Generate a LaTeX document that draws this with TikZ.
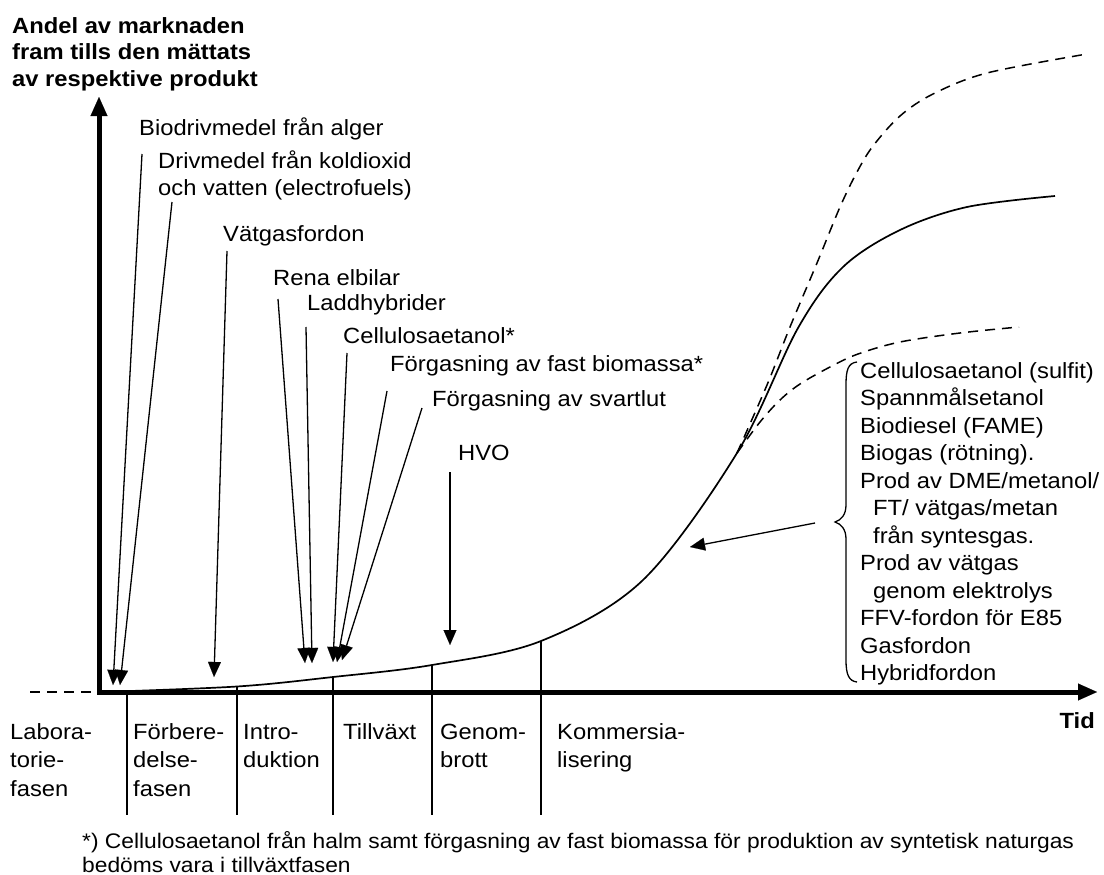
\documentclass[tikz,border=0pt]{standalone}
\usepackage{fontspec}
\setmainfont{Liberation Sans}[FakeStretch=1.08]
\usetikzlibrary{arrows.meta}
\newcommand{\mlines}[1]{\begin{tabular}[t]{@{}l@{}}#1\end{tabular}}
\tikzset{
  lbl/.style={anchor=base west, inner sep=0pt, font=\fontsize{22bp}{27.5bp}\selectfont},
  boldlbl/.style={anchor=base west, inner sep=0pt, font=\fontsize{22bp}{26.5bp}\selectfont\bfseries},
  phaselbl/.style={anchor=base west, inner sep=0pt, font=\fontsize{22bp}{28.5bp}\selectfont},
  pointer/.style={line width=1.3bp, -{Triangle[length=15bp,width=13bp,line width=0.1bp]}},
  axisline/.style={line width=5bp, line join=miter,
     {Triangle[length=19bp,width=17bp,line width=0.1bp]}-{Triangle[length=19bp,width=17bp,line width=0.1bp]}},
  phaseline/.style={line width=1.3bp},
  maincurve/.style={line width=1.7bp},
  dashcurve/.style={line width=1.5bp, dash pattern=on 10bp off 7bp},
}
\begin{document}
\begin{tikzpicture}[x=1bp,y=-1bp]
\useasboundingbox (0,0) rectangle (1104,875);
\fill[white] (0,0) rectangle (1104,875);

% axes
\coordinate (ytip) at (99,97);
\coordinate (origin) at (99,692);
\coordinate (xtip) at (1097,692);
\coordinate (dashL) at (30,692);
\draw[line width=1.3bp, dash pattern=on 10bp off 7bp] (dashL) -- (origin);
\draw[axisline] (ytip) |- (xtip);

% y-axis title
\node[boldlbl] (ytitle) at (12,33) {\mlines{Andel av marknaden\\fram tills den mättats\\av respektive produkt}};
\node[boldlbl, anchor=base east] (tid) at (1095,728) {Tid};

% main curve
\draw[maincurve] plot[smooth, tension=0.55] coordinates {(101,692) (237,686.5) (333,677) (432,665) (541,641) (643,580) (737,453) (798,328) (843,267) (900,230) (967,207) (1055,196)};
% upper dashed
\draw[dashcurve] plot[smooth, tension=0.55] coordinates {(737,453) (767,385) (790,327) (817,263) (840,207) (857,172) (873,146) (900,116) (933,94) (987,73) (1087,54)};
% lower dashed
\draw[dashcurve] plot[smooth, tension=0.55] coordinates {(737,453) (760,422) (780,400) (800,384) (830,367) (858,354) (900,342) (960,333) (1019,327)};

% phase lines
\coordinate (p1t) at (127,692); \coordinate (p1b) at (127,815);
\coordinate (p2t) at (237,686.5); \coordinate (p2b) at (237,815);
\coordinate (p3t) at (333,677); \coordinate (p3b) at (333,815);
\coordinate (p4t) at (432,665); \coordinate (p4b) at (432,815);
\coordinate (p5t) at (541,641); \coordinate (p5b) at (541,815);
\foreach \i in {1,...,5} \draw[phaseline] (p\i t) -- (p\i b);

% phase labels
\node[phaselbl] (ph1) at (10,739) {\mlines{Labora-\\torie-\\fasen}};
\node[phaselbl] (ph2) at (133,739) {\mlines{Förbere-\\delse-\\fasen}};
\node[phaselbl] (ph3) at (243,739) {\mlines{Intro-\\duktion}};
\node[phaselbl] (ph4) at (343,739) {Tillväxt};
\node[phaselbl] (ph5) at (440,739) {\mlines{Genom-\\brott}};
\node[phaselbl] (ph6) at (557,739) {\mlines{Kommersia-\\lisering}};

% footnote
\node[lbl, font=\fontsize{21.1bp}{24bp}\selectfont] (foot) at (82,848) {\vtop{\hbox{*) Cellulosaetanol från halm samt förgasning av fast biomassa för produktion av syntetisk naturgas}\hbox{bedöms vara i tillväxtfasen}}};

% top labels
\node[lbl] (l1) at (139,135) {Biodrivmedel från alger};
\node[lbl, font=\fontsize{22bp}{27bp}\selectfont] (l2) at (158,168) {\mlines{Drivmedel från koldioxid\\och vatten (electrofuels)}};
\node[lbl] (l3) at (223,241) {Vätgasfordon};
\node[lbl] (l4) at (273,285) {Rena elbilar};
\node[lbl] (l5) at (307,310) {Laddhybrider};
\node[lbl] (l6) at (343,343) {Cellulosaetanol*};
\node[lbl] (l7) at (390,371) {Förgasning av fast biomassa*};
\node[lbl] (l8) at (432,406) {Förgasning av svartlut};
\node[lbl] (l9) at (458,460) {HVO};

% pointer arrows
\coordinate (a1s) at (142,154); \coordinate (a1t) at (113,685);
\coordinate (a2s) at (172,202); \coordinate (a2t) at (120,685);
\coordinate (a3s) at (227,251); \coordinate (a3t) at (214,677);
\coordinate (a4s) at (278,299); \coordinate (a4t) at (305,663);
\coordinate (a5s) at (306,327); \coordinate (a5t) at (312,663);
\coordinate (a6s) at (347,353); \coordinate (a6t) at (333,662);
\coordinate (a7s) at (387,391); \coordinate (a7t) at (337,662);
\coordinate (a8s) at (422,408); \coordinate (a8t) at (342,660);
\coordinate (a9s) at (450,472); \coordinate (a9t) at (450,645);
\foreach \i in {1,...,9} \draw[pointer] (a\i s) -- (a\i t);

% brace
\coordinate (btop) at (857,362);
\coordinate (btip) at (835,522);
\coordinate (bbot) at (857,682);
\draw[line width=1.3bp] (btop) .. controls (848,363) and (846,370) .. (846,385) -- (846,505)
  .. controls (846,515) and (841,520) .. (btip)
  .. controls (841,524) and (846,529) .. (846,539) -- (846,660)
  .. controls (846,675) and (849,681) .. (bbot);
\coordinate (bas) at (815,523); \coordinate (bat) at (690,547);
\draw[pointer] (bas) -- (bat);

% brace text
\node[lbl] (btext) at (860,378) {\mlines{Cellulosaetanol (sulfit)\\Spannmålsetanol\\Biodiesel (FAME)\\Biogas (rötning).\\Prod av DME/metanol/\\\hspace*{13bp}FT/ vätgas/metan\\\hspace*{13bp}från syntesgas.\\Prod av vätgas\\\hspace*{13bp}genom elektrolys\\FFV-fordon för E85\\Gasfordon\\Hybridfordon}};
\end{tikzpicture}
\end{document}
